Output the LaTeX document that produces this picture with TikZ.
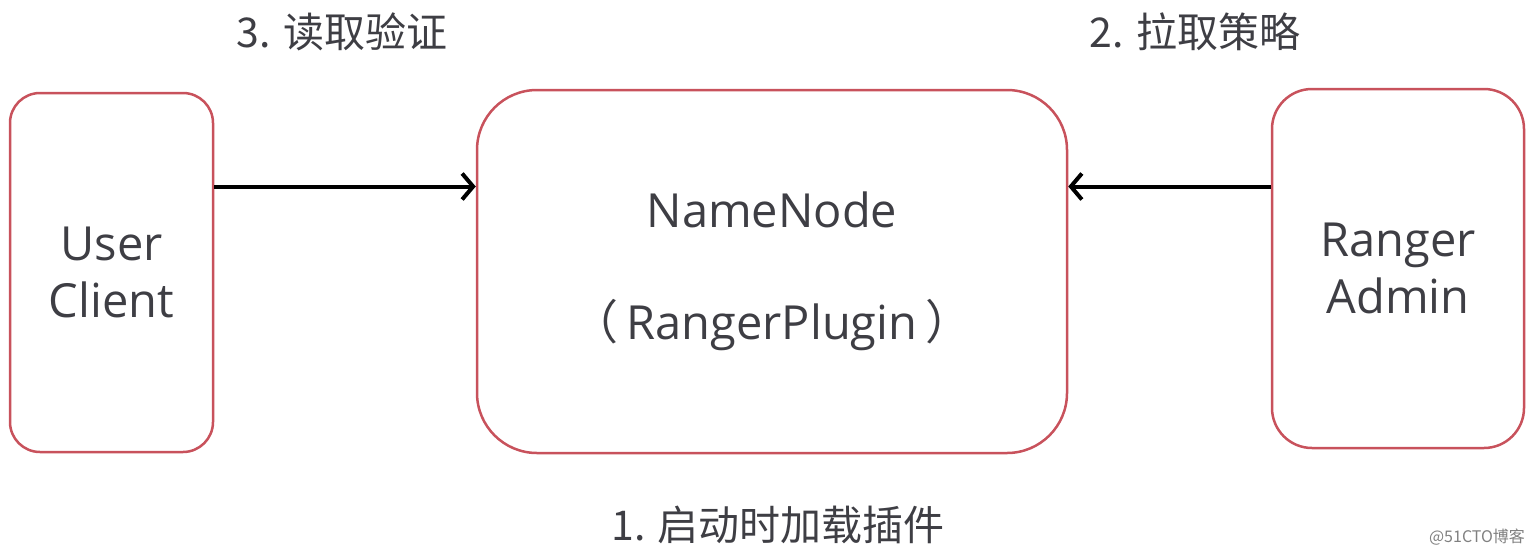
\documentclass[tikz,border=0pt]{standalone}
\usepackage{fontspec}
\setmainfont{Open Sans}
\newfontfamily\cjk{Noto Sans CJK SC}
\usetikzlibrary{arrows.meta}
\definecolor{boxred}{RGB}{200,82,92}
\definecolor{textgray}{RGB}{62,62,68}
\tikzset{
    rounded-box/.style = {draw=boxred, line width=2.5pt, rectangle, align=center, text=textgray, font=\fontsize{47}{57}\selectfont, inner sep=0pt},
    step-label/.style = {text=textgray, font=\cjk\fontsize{41}{45}\selectfont},
    flow-arrow/.style = {line width=4pt, -{Straight Barb[length=11pt,width=26pt]}},
}

\begin{document}
\begin{tikzpicture}[x=1pt,y=-1pt]
\useasboundingbox (0,0) rectangle (1534,555);
\node [rounded-box, minimum width=203pt, minimum height=359pt, rounded corners=30pt] (client) at (111.5,272.5) {User\\Client};
\node [rounded-box, minimum width=590pt, minimum height=363pt, rounded corners=60pt] (namenode) at (772,271.5) {NameNode\\[55pt]{\cjk （}\,RangerPlugin\,{\cjk ）}};
\node [rounded-box, minimum width=252pt, minimum height=359pt, rounded corners=40pt] (admin) at (1398,268.5) {Ranger\\Admin};
\draw [flow-arrow] ([yshift=86pt]client.east) -- ([yshift=86pt]client.east -| namenode.west);
\draw [flow-arrow] ([yshift=82pt]admin.west) -- ([yshift=82pt]admin.west -| namenode.east);
\node [step-label] (read-check) at (342,32) {3. 读取验证};
\node [step-label] (pull-policy) at (1195,32) {2. 拉取策略};
\node [step-label] (load-plugin) at (778,525) {1. 启动时加载插件};
\node [text=gray, font=\cjk\fontsize{16}{18}\selectfont] (mark) at (1477,537) {@51CTO博客};
\end{tikzpicture}
\end{document}
